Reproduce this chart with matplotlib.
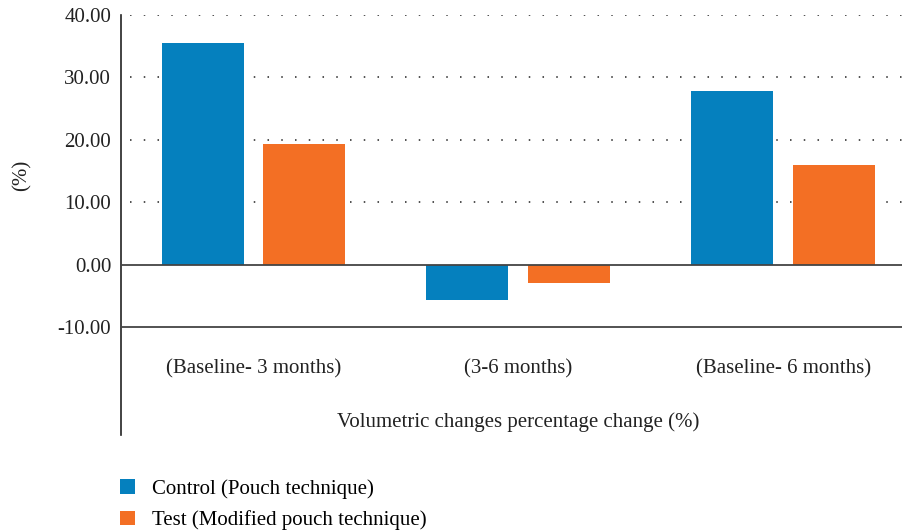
import numpy as np
import matplotlib
matplotlib.use("Agg")
import matplotlib.pyplot as plt
from matplotlib.patches import Patch

# ---- data ----
categories = ["(Baseline- 3 months)", "(3-6 months)", "(Baseline- 6 months)"]
control = [35.5, -5.6, 27.9]
test = [19.3, -2.9, 15.9]
series_labels = ["Control (Pouch technique)", "Test (Modified pouch technique)"]
y_ticks = [-10, 0, 10, 20, 30, 40]

BLUE = "#0580be"
ORANGE = "#f36f24"

plt.rcParams["font.family"] = ["Liberation Serif", "DejaVu Serif"]
fs = 15

fig = plt.figure(figsize=(9.02, 5.31), dpi=100)
ax = fig.add_axes([121 / 902, 1 - 435 / 531, 1 - 121 / 902, (435 - 15) / 531])

x = np.arange(len(categories))
w = 0.31
off = 0.192
ax.bar(x - off, control, width=w, color=BLUE, zorder=3)
ax.bar(x + off, test, width=w, color=ORANGE, zorder=3)

ax.set_xlim(-0.5, 2.449)
ax.set_ylim(-27.3, 40)

# dotted grid above zero, solid lines at 0 and -10
for t in y_ticks:
    if t > 0:
        ax.axhline(t, xmin=0.012, color="#222222", linestyle=(0, (1, 8)), linewidth=1.1, zorder=1)
ax.axhline(0, color="#444444", linewidth=1.3, zorder=4)
ax.axhline(-10, color="#444444", linewidth=1.3, zorder=4)

ax.set_yticks(y_ticks)
ax.set_yticklabels([f"{t:.2f}" for t in y_ticks], fontsize=fs, color="#222222")
ax.tick_params(axis="y", length=0, pad=7)
ax.set_xticks([])
for s in ["top", "right", "bottom"]:
    ax.spines[s].set_visible(False)
ax.spines["left"].set_color("#222222")
ax.spines["left"].set_linewidth(1.2)

for xi, cat in zip(x, categories):
    ax.text(xi, -16.7, cat, ha="center", va="center", fontsize=fs, color="#222222")
ax.text(1, -25.2, "Volumetric changes percentage change (%)", ha="center", va="center",
        fontsize=fs, color="#222222")

fig.text(22 / 902, 1 - 175 / 531, "(%)", rotation=90, ha="center", va="center",
         fontsize=fs, color="#222222")

handles = [Patch(facecolor=BLUE), Patch(facecolor=ORANGE)]
fig.legend(handles, series_labels, loc="upper left", bbox_to_anchor=(112 / 902, 1 - 471 / 531),
           frameon=False, fontsize=fs, handlelength=0.7, handleheight=0.7,
           handletextpad=0.8, labelspacing=0.55, borderaxespad=0)

fig.savefig("out.png", dpi=100)
